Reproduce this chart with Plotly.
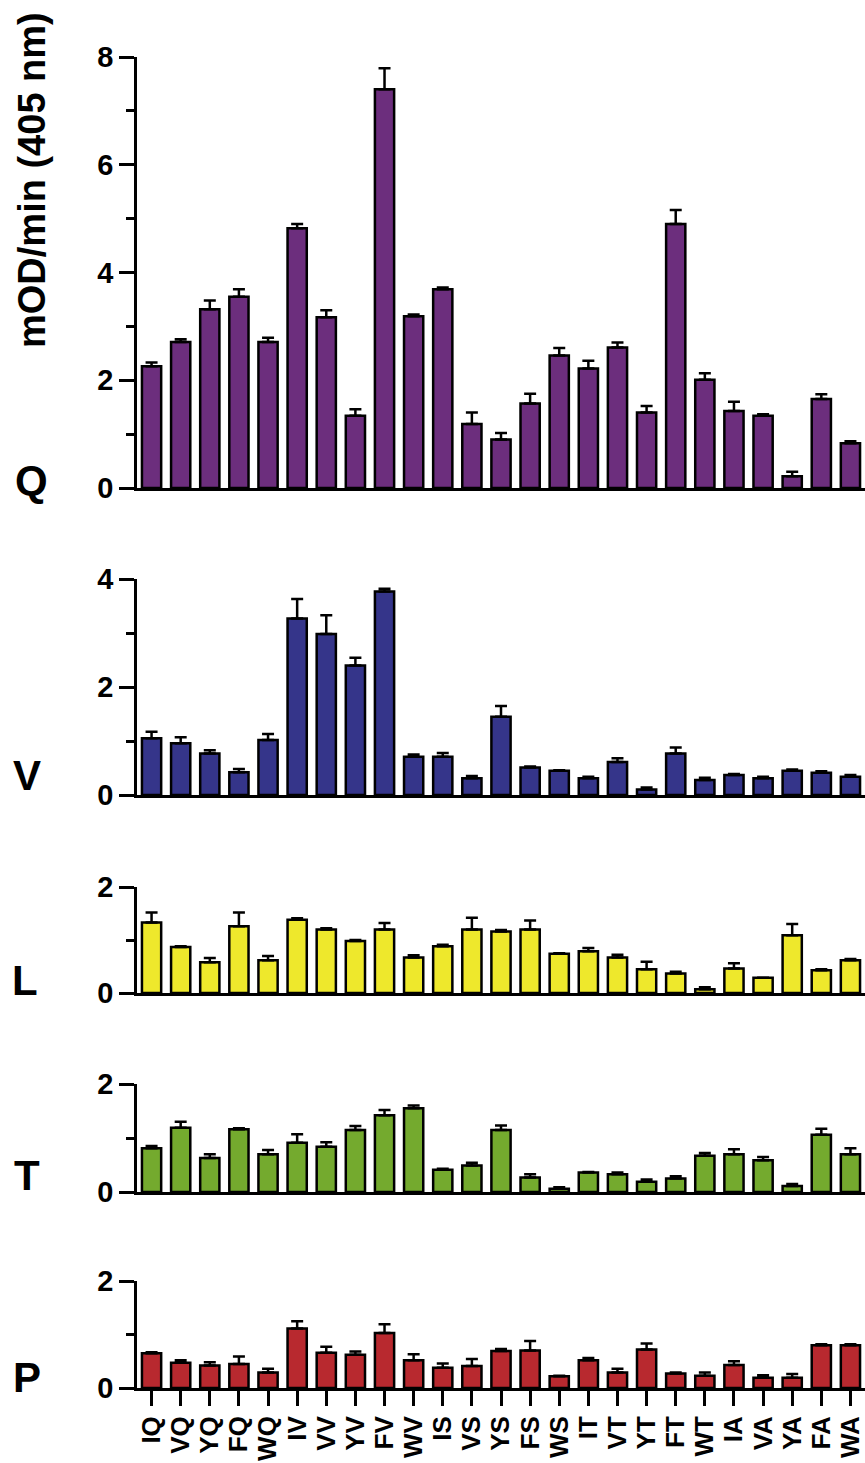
import plotly.graph_objects as go

categories = ["IQ", "VQ", "YQ", "FQ", "WQ", "IV", "VV", "YV", "FV", "WV",
              "IS", "VS", "YS", "FS", "WS", "IT", "VT", "YT", "FT", "WT",
              "IA", "VA", "YA", "FA", "WA"]

q_vals = [2.26, 2.71, 3.32, 3.55, 2.71, 4.82, 3.17, 1.34, 7.40, 3.19,
          3.69, 1.19, 0.90, 1.57, 2.46, 2.22, 2.61, 1.40, 4.90, 2.01,
          1.43, 1.34, 0.22, 1.65, 0.83]
q_err = [0.07, 0.05, 0.16, 0.14, 0.08, 0.08, 0.13, 0.12, 0.39, 0.03,
         0.03, 0.21, 0.12, 0.18, 0.14, 0.14, 0.09, 0.12, 0.26, 0.12,
         0.17, 0.03, 0.08, 0.09, 0.04]

v_vals = [1.05, 0.96, 0.77, 0.42, 1.02, 3.27, 2.98, 2.40, 3.77, 0.71,
          0.71, 0.31, 1.45, 0.51, 0.45, 0.31, 0.61, 0.10, 0.77, 0.28,
          0.37, 0.31, 0.45, 0.41, 0.34]
v_err = [0.12, 0.11, 0.06, 0.06, 0.11, 0.36, 0.35, 0.14, 0.05, 0.04,
         0.07, 0.04, 0.20, 0.02, 0.01, 0.03, 0.07, 0.04, 0.11, 0.04,
         0.02, 0.03, 0.02, 0.03, 0.03]

l_vals = [1.33, 0.87, 0.58, 1.26, 0.62, 1.38, 1.20, 0.98, 1.20, 0.67,
          0.88, 1.20, 1.16, 1.20, 0.74, 0.79, 0.67, 0.45, 0.37, 0.07,
          0.46, 0.29, 1.09, 0.43, 0.62]
l_err = [0.19, 0.01, 0.08, 0.26, 0.08, 0.03, 0.02, 0.02, 0.12, 0.04,
         0.03, 0.22, 0.03, 0.17, 0.01, 0.06, 0.05, 0.14, 0.03, 0.04,
         0.10, 0.00, 0.21, 0.02, 0.02]

t_vals = [0.81, 1.19, 0.63, 1.16, 0.70, 0.91, 0.84, 1.15, 1.42, 1.55,
          0.41, 0.49, 1.15, 0.27, 0.06, 0.36, 0.33, 0.19, 0.25, 0.67,
          0.70, 0.59, 0.11, 1.06, 0.70]
t_err = [0.04, 0.11, 0.07, 0.02, 0.08, 0.16, 0.08, 0.07, 0.10, 0.05,
         0.02, 0.05, 0.08, 0.06, 0.03, 0.01, 0.03, 0.04, 0.04, 0.05,
         0.09, 0.06, 0.04, 0.11, 0.11]

p_vals = [0.65, 0.47, 0.42, 0.45, 0.29, 1.11, 0.66, 0.62, 1.03, 0.52,
          0.38, 0.41, 0.69, 0.70, 0.22, 0.52, 0.29, 0.72, 0.27, 0.23,
          0.43, 0.19, 0.19, 0.80, 0.80]
p_err = [0.02, 0.05, 0.06, 0.14, 0.07, 0.14, 0.11, 0.06, 0.16, 0.11,
         0.08, 0.13, 0.04, 0.18, 0.01, 0.04, 0.07, 0.11, 0.02, 0.06,
         0.07, 0.05, 0.07, 0.02, 0.02]

panel_labels = ["Q", "V", "L", "T", "P"]
panel_colors = ["#6C2E7D", "#35358A", "#EEE82C", "#74AA2E", "#B8292F"]
panel_ymax = [8, 4, 2, 2, 2]
y_title = "mOD/min (405 nm)"

W, H = 865, 1463
FONT = "Liberation Sans, Arial, sans-serif"

# panel pixel extents on the page (top, bottom)
panel_px = [(57, 488), (579, 795), (887, 993), (1084, 1192), (1281, 1388)]
label_px = [(31, 480), (27, 775), (25, 980), (27, 1175), (27, 1377)]

series = [(q_vals, q_err), (v_vals, v_err), (l_vals, l_err), (t_vals, t_err), (p_vals, p_err)]

fig = go.Figure()
for i, ((vals, errs), col) in enumerate(zip(series, panel_colors)):
    sfx = "" if i == 0 else str(i + 1)
    fig.add_trace(go.Bar(
        x=categories, y=vals,
        xaxis="x" + sfx, yaxis="y" + sfx,
        width=0.66,
        marker=dict(color=col, line=dict(color="black", width=2.5)),
        error_y=dict(type="data", array=errs, arrayminus=[0] * len(errs),
                     symmetric=False, color="black", thickness=2.5, width=6),
        showlegend=False,
    ))

layout = dict(
    width=W, height=H,
    margin=dict(l=0, r=0, t=0, b=0, pad=0),
    plot_bgcolor="white", paper_bgcolor="white",
    font=dict(family=FONT, color="black"),
    bargap=0.3,
)

x0 = 137 / W
for i in range(5):
    sfx = "" if i == 0 else str(i + 1)
    top, bot = panel_px[i]
    ydom = [1 - bot / H, 1 - top / H]
    last = (i == 4)
    layout["xaxis" + sfx] = dict(
        domain=[x0, 1], anchor="y" + sfx,
        type="category", range=[-0.5, 24.5],
        tickmode="array", tickvals=categories, ticktext=categories,
        showline=True, linecolor="black", linewidth=2.5,
        showgrid=False, zeroline=False,
        ticks="outside" if last else "", ticklen=15, tickwidth=2.5, tickcolor="black",
        showticklabels=last, tickangle=-90,
        tickfont=dict(family=FONT, size=26, color="black", weight="bold"),
        automargin=False,
    )
    layout["yaxis" + sfx] = dict(
        domain=ydom, anchor="x" + sfx,
        range=[0, panel_ymax[i]], dtick=2, tick0=0,
        showline=True, linecolor="black", linewidth=2.5,
        showgrid=False, zeroline=False,
        ticks="outside", ticklen=15, tickwidth=2.5, tickcolor="black",
        minor=dict(dtick=1, tick0=0, ticks="outside", ticklen=8, tickwidth=2.5,
                   tickcolor="black", showgrid=False),
        tickfont=dict(family=FONT, size=29, color="black", weight="bold"),
        automargin=False,
    )

annotations = [dict(
    text=y_title, x=32 / W, y=1 - 180 / H, xref="paper", yref="paper",
    xanchor="center", yanchor="middle", textangle=-90, showarrow=False,
    font=dict(family=FONT, size=38, color="black", weight="bold"),
)]
for lab, (px, py) in zip(panel_labels, label_px):
    annotations.append(dict(
        text=lab, x=px / W, y=1 - py / H, xref="paper", yref="paper",
        xanchor="center", yanchor="middle", showarrow=False,
        font=dict(family=FONT, size=42, color="black", weight="bold"),
    ))
layout["annotations"] = annotations

fig.update_layout(**layout)
fig.write_html(
    "out.html",
    config={"displayModeBar": False},
    post_script="document.body.style.margin='0px';"
                "document.documentElement.style.overflow='hidden';"
                "document.body.style.overflow='hidden';",
)
